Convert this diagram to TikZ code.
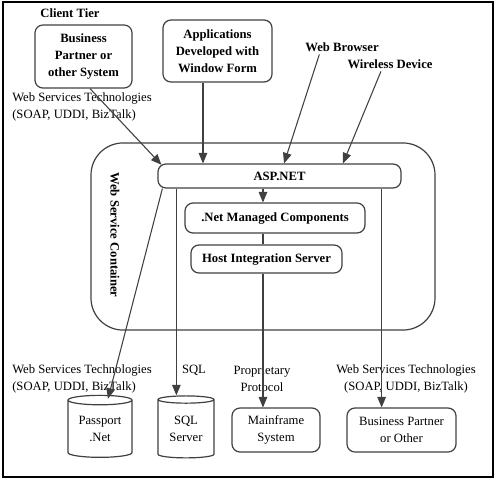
\documentclass[tikz,border=0pt]{standalone}
\usepackage{fontspec}
\setmainfont{Liberation Serif}
\usetikzlibrary{arrows,shapes.geometric}

\begin{document}
\begin{tikzpicture}[>=triangle 45,x=0.75pt,y=-0.75pt,
	every node/.style={font=\fontsize{9.5}{12.8}\selectfont,align=center,inner sep=0pt},
	box/.style={draw=black!75,line width=0.9pt,rounded corners=6pt},
	bbox/.style={box,font=\fontsize{9.5}{12.8}\selectfont\bfseries},
	db/.style={draw=black!75,line width=0.9pt,cylinder,shape border rotate=90,aspect=0.22,minimum height=46.5pt},
	link/.style={->,black!75,line width=0.8pt}]
	
	\useasboundingbox (0,0) rectangle (499,482);
	\draw[line width=1pt] (3,2) rectangle (493,477);
	
	% client tier
	\node [font=\fontsize{9.5}{12.8}\selectfont\bfseries] (tier) at (70,13) {Client Tier};
	\node [bbox,minimum width=72.8pt,minimum height=47.3pt] (biz) at (83.5,56.5) {Business\\Partner or\\other System};
	\node [bbox,minimum width=81.8pt,minimum height=46.5pt] (apps) at (217.5,51) {Applications\\Developed with\\Window Form};
	\node [font=\fontsize{9.5}{12.8}\selectfont\bfseries] (browser) at (342,47) {Web Browser};
	\node [font=\fontsize{9.5}{12.8}\selectfont\bfseries] (wireless) at (390,64) {Wireless Device};
	\node [anchor=west,align=left] (wst1) at (12,106.5) {Web Services Technologies\\(SOAP, UDDI, BizTalk)};
	
	% container
	\node [draw=black!75,line width=0.9pt,rounded corners=24pt,minimum width=258pt,minimum height=140.3pt] (container) at (263,236.5) {};
	\node [rotate=-90,font=\fontsize{9.5}{12.8}\selectfont\bfseries] (wsclbl) at (115,235) {Web Service Container};
	\node [bbox,minimum width=182.3pt,minimum height=18pt] (asp) at (279.5,176) {ASP.NET};
	\node [bbox,minimum width=135pt,minimum height=22.5pt] (netmc) at (275,218) {.Net Managed Components};
	\node [bbox,minimum width=113.3pt,minimum height=21pt] (his) at (266.5,259) {Host Integration Server};
	
	% back end
	\node [anchor=west,align=left] (wst2) at (12,379) {Web Services Technologies\\(SOAP, UDDI, BizTalk)};
	\node (sqllbl) at (194,370) {SQL};
	\node (protolbl) at (262,379) {Proprietary\\Protocol};
	\node (wst3) at (406,379) {Web Services Technologies\\(SOAP, UDDI, BizTalk)};
	\node [db,minimum width=48pt] (passport) at (100,429) {Passport\\.Net};
	\node [db,minimum width=42pt] (sqlsrv) at (186,429) {SQL\\Server};
	\node [box,minimum width=66pt,minimum height=33pt] (mainframe) at (276,430) {Mainframe\\System};
	\node [box,minimum width=81.8pt,minimum height=33pt] (partner) at (401.5,430) {Business Partner\\or Other};
	
	% into ASP.NET
	\draw[link] ([xshift=4.9pt]biz.south) -- ([xshift=3pt,yshift=-1pt]asp.north west);
	\draw[link] ([xshift=-10.9pt]apps.south) coordinate (a1) -- (a1 |- asp.north);
	\draw[link] ([xshift=-17pt,yshift=-2pt]browser.south) -- ([xshift=3.4pt]asp.north);
	\draw[link] ([xshift=-6.8pt,yshift=-2pt]wireless.south) -- ([xshift=47.6pt]asp.north);
	
	% managed path
	\draw[link] ([xshift=-12.4pt]asp.south) coordinate (m1) -- (m1 |- netmc.north);
	\draw[black!75,line width=0.8pt] (m1 |- netmc.south) -- (m1 |- his.north);
	\draw[link] (m1 |- his.south) -- (m1 |- mainframe.north);
	
	% out of ASP.NET
	\draw[link] ([xshift=3.75pt]asp.south west) -- ([xshift=6pt,yshift=-3pt]passport.north);
	\draw[link] ([xshift=14.25pt]asp.south west) coordinate (s1) -- (s1 |- sqlsrv.north);
	\draw[link] ([xshift=-15pt]asp.south east) coordinate (p1) -- (p1 |- partner.north);
	
\end{tikzpicture}
\end{document}
